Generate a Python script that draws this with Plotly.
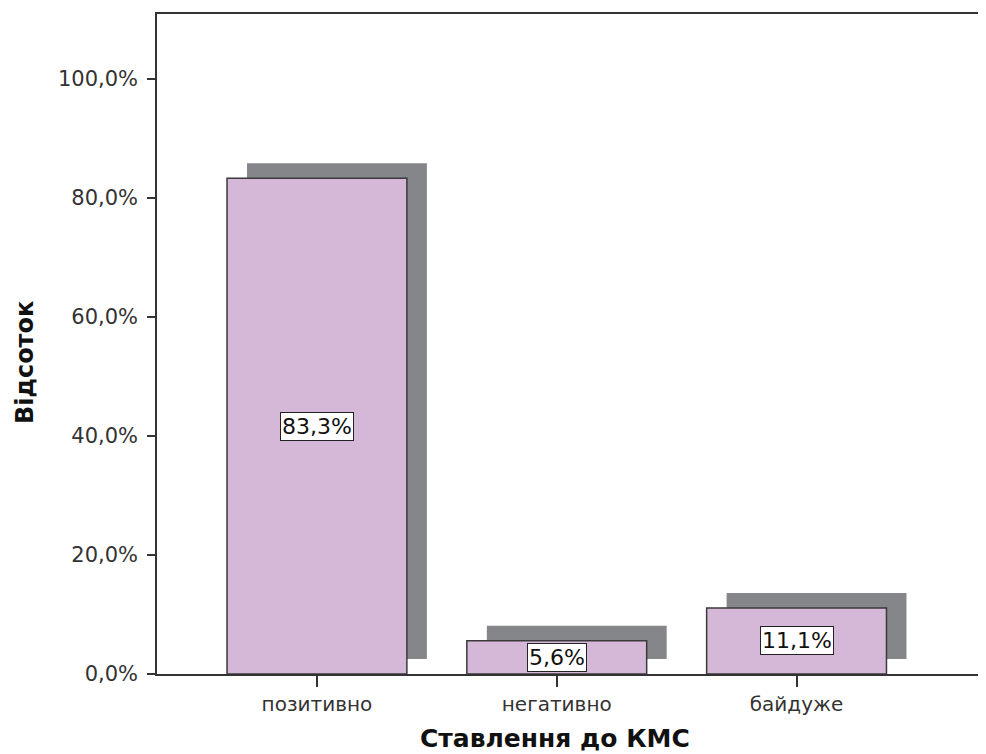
import plotly.graph_objects as go

categories = ["позитивно", "негативно", "байдуже"]
values = [83.3, 5.6, 11.1]
value_labels = ["83,3%", "5,6%", "11,1%"]
y_ticks = [0, 20, 40, 60, 80, 100]
y_tick_labels = ["0,0%", "20,0%", "40,0%", "60,0%", "80,0%", "100,0%"]
x_title = "Ставлення до КМС"
y_title = "Відсоток"

# the page body adds an 8px margin; compensate so the chart sits as in the reference
OFF = 8
W, H = 986 - OFF, 754 - OFF
L, T, R = 157 - OFF, 14 - OFF, 0
plot_bottom = 674 - OFF
B = H - plot_bottom
plot_h = H - T - B
y_max = 110.9
px_per_pct = plot_h / y_max
bar_w = 0.75
x_range = [-0.667, 2.79]
px_per_cat = (W - L - R) / (x_range[1] - x_range[0])
shadow_dx = 20 / px_per_cat
shadow_dy = 15 / px_per_pct

FONT = "DejaVu Sans"

fig = go.Figure()
# shadow
fig.add_trace(go.Bar(
    x=categories, y=values, base=[shadow_dy] * len(values),
    width=[bar_w] * len(values), offset=-bar_w / 2 + shadow_dx,
    marker=dict(color="#85868a", line=dict(width=0)),
    hoverinfo="skip", showlegend=False,
))
# main bars
fig.add_trace(go.Bar(
    x=categories, y=values,
    width=[bar_w] * len(values), offset=-bar_w / 2,
    marker=dict(color="#d5b8d7", line=dict(color="#3a3a3a", width=1.5)),
    showlegend=False,
))

for c, v, t in zip(categories, values, value_labels):
    fig.add_annotation(
        x=c, y=v / 2, xref="x", yref="y", text=t, showarrow=False,
        font=dict(family=FONT, size=22, color="#111"),
        bgcolor="white", bordercolor="#222", borderwidth=1, borderpad=1,
    )

fig.add_annotation(
    x=0, xref="paper", xshift=-(157 - 25), y=(674 - 363) / plot_h, yref="paper",
    text=y_title, textangle=-90, showarrow=False,
    font=dict(family=FONT, size=24, color="#111", weight="bold"),
    xanchor="center", yanchor="middle",
)
fig.add_annotation(
    x=categories[1], xref="x", xshift=-2, y=(674 - 738) / plot_h, yref="paper",
    text=x_title, showarrow=False,
    font=dict(family=FONT, size=25, color="#111", weight="bold"),
    xanchor="center", yanchor="middle",
)

fig.update_layout(
    width=W, height=H,
    margin=dict(l=L, r=R, t=T, b=B, pad=0),
    plot_bgcolor="white", paper_bgcolor="white",
    barmode="overlay",
    xaxis=dict(
        type="category", range=x_range,
        showline=True, linecolor="#333", linewidth=1.5, mirror=True,
        ticks="outside", ticklen=11, tickwidth=1.5, tickcolor="#333",
        showgrid=False, zeroline=False,
        tickfont=dict(family=FONT, size=20, color="#333"),
    ),
    yaxis=dict(
        range=[0, y_max],
        tickvals=y_ticks, ticktext=y_tick_labels,
        showline=True, linecolor="#333", linewidth=1.5,
        ticks="outside", ticklen=8, tickwidth=1.5, tickcolor="#333",
        ticklabelstandoff=5,
        showgrid=False, zeroline=False,
        tickfont=dict(family=FONT, size=21, color="#333"),
    ),
)

fig.write_html("out.html")
